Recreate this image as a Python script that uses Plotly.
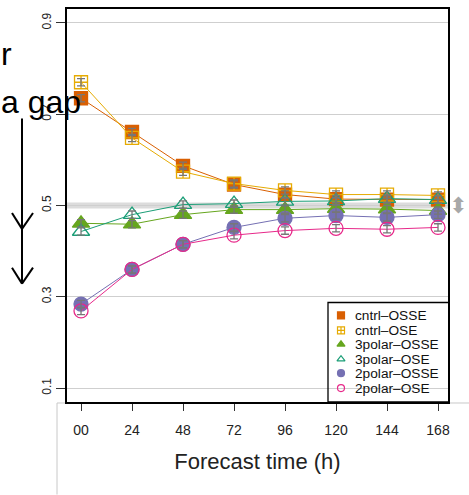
import plotly.graph_objects as go

# ---------------- data ----------------
hours = [0, 24, 48, 72, 96, 120, 144, 168]
tick_labels = ["00", "24", "48", "72", "96", "120", "144", "168"]

cntrl_osse = [0.735, 0.661, 0.587, 0.546, 0.524, 0.514, 0.513, 0.513]
cntrl_ose = [0.770, 0.648, 0.574, 0.548, 0.533, 0.524, 0.524, 0.522]
polar3_osse = [0.461, 0.459, 0.480, 0.491, 0.491, 0.493, 0.492, 0.489]
polar3_ose = [0.443, 0.480, 0.502, 0.504, 0.509, 0.510, 0.515, 0.513]
polar2_osse = [0.284, 0.360, 0.415, 0.452, 0.472, 0.478, 0.474, 0.480]
polar2_ose = [0.269, 0.360, 0.415, 0.435, 0.445, 0.450, 0.448, 0.452]
err = [0.008, 0.008, 0.008, 0.008, 0.008, 0.008, 0.008, 0.008]

series_names = ["cntrl\u2013OSSE", "cntrl\u2013OSE", "3polar\u2013OSSE",
                "3polar\u2013OSE", "2polar\u2013OSSE", "2polar\u2013OSE"]
series_vals = [cntrl_osse, cntrl_ose, polar3_osse, polar3_ose, polar2_osse, polar2_ose]
series_colors = ["#D95F02", "#E6AB02", "#66A61E", "#1B9E77", "#7570B3", "#E7298A"]
series_symbols = ["square", "square-cross-open", "triangle-up", "triangle-up-open",
                  "circle", "circle-open"]
series_sizes = [13, 13, 15, 15, 14, 14]

y_ticks = [0.1, 0.3, 0.5, 0.7, 0.9]
ref_level = 0.5
ref_band = 0.0065

# ---------------- layout geometry ----------------
W, H = 469, 495
L, R, T, B = 67, 21, 7, 93
PW, PH = W - L - R, H - T - B


def px(x):
    return (x - L) / PW


def py(y):
    return (H - B - y) / PH


fig = go.Figure()

# reference band + dotted line
fig.add_shape(type="rect", xref="paper", yref="y", x0=0, x1=1,
              y0=ref_level - ref_band, y1=ref_level + ref_band,
              fillcolor="#DCDCDC", line_width=0, layer="below")
fig.add_shape(type="line", xref="paper", yref="y", x0=0, x1=1,
              y0=ref_level, y1=ref_level,
              line=dict(color="#555555", width=1.2, dash="dot"), layer="below")

# main traces
for name, vals, col, sym, sz in zip(series_names, series_vals, series_colors,
                                    series_symbols, series_sizes):
    fig.add_trace(go.Scatter(
        x=hours, y=vals, mode="lines+markers", name=name, showlegend=False,
        line=dict(color=col, width=1),
        marker=dict(symbol=sym, size=sz, color=col,
                    line=dict(color=col, width=1.3)),
    ))

# error bars on top
for vals in series_vals:
    fig.add_trace(go.Scatter(
        x=hours, y=vals, mode="markers", showlegend=False, hoverinfo="skip",
        marker=dict(size=1, opacity=0),
        error_y=dict(type="data", array=err, color="#777777", thickness=1.3, width=4),
    ))

font_axis = "Liberation Sans, Arial, sans-serif"

# ---------------- manual legend on a pixel overlay axis ----------------
leg_box = (328, 302, 449, 402)       # left, top, right, bottom (px)
leg_sym_x = 341
leg_text_x = 353
leg_rows = [315, 330, 344, 359, 373, 388]

fig.add_trace(go.Scatter(
    x=[leg_sym_x] * len(series_names), y=leg_rows, xaxis="x2", yaxis="y2",
    mode="markers", showlegend=False, hoverinfo="skip", cliponaxis=False,
    marker=dict(symbol=series_symbols, size=7, color=series_colors,
                line=dict(color=series_colors, width=1.2)),
))
for name, yy in zip(series_names, leg_rows):
    fig.add_annotation(text=name, xref="x2", yref="y2", x=leg_text_x, y=yy,
                       xanchor="left", yanchor="middle", showarrow=False,
                       font=dict(family=font_axis, size=13.7, color="#111111"))
fig.add_shape(type="rect", xref="x2", yref="y2",
              x0=leg_box[0], x1=leg_box[2], y0=leg_box[1], y1=leg_box[3],
              line=dict(color="black", width=1.3), fillcolor="rgba(0,0,0,0)")

fig.update_layout(
    xaxis2=dict(overlaying="x", range=[L, W - R], visible=False, fixedrange=True),
    yaxis2=dict(overlaying="y", range=[H - B, T], visible=False, fixedrange=True),
)

fig.layout.xaxis.update(
    range=[-6.6, 172.7], tickvals=hours, ticktext=tick_labels,
    showgrid=False, zeroline=False,
    showline=True, linecolor="black", linewidth=1.5, mirror=True,
    ticks="outside", ticklen=7, tickcolor="#333333", tickwidth=1.3,
    ticklabelstandoff=7,
    tickfont=dict(family=font_axis, size=14, color="#222222"),
    title=dict(text="Forecast time (h)", standoff=17,
               font=dict(family=font_axis, size=22, color="#222222")),
)
fig.layout.yaxis.update(
    range=[0.0695, 0.9305], tickvals=y_ticks, ticktext=[str(v) for v in y_ticks],
    showgrid=True, gridcolor="#CFCFCF", gridwidth=1, zeroline=False,
    showline=True, linecolor="black", linewidth=1.5, mirror=True,
    ticks="outside", ticklen=9, tickcolor="#333333", tickwidth=1.3,
    tickangle=-90,
    tickfont=dict(family=font_axis, size=12, color="#222222"),
)

fig.update_layout(
    width=W, height=H,
    margin=dict(l=L, r=R, t=T, b=B, pad=0),
    paper_bgcolor="white", plot_bgcolor="white",
    showlegend=False,
)

# gray slide frame lines at the bottom
fig.add_shape(type="line", xref="paper", yref="paper",
              x0=px(57), x1=px(57), y0=py(403), y1=py(495),
              line=dict(color="#C8C8C8", width=1))
fig.add_shape(type="line", xref="paper", yref="paper",
              x0=px(57), x1=px(469), y0=py(403), y1=py(403),
              line=dict(color="#C8C8C8", width=1), layer="below")

# left-side slide text and arrows
fig.add_annotation(text="r", xref="paper", yref="paper", x=px(-1), y=py(52),
                   xanchor="left", yanchor="middle", showarrow=False,
                   font=dict(family="Liberation Sans, Arial", size=32, color="black"))
fig.add_annotation(text="a gap", xref="paper", yref="paper", x=px(-1), y=py(100),
                   xanchor="left", yanchor="middle", showarrow=False,
                   font=dict(family="Liberation Sans, Arial", size=32, color="black"))
arrow_line = dict(color="black", width=2)
fig.add_shape(type="line", xref="paper", yref="paper",
              x0=px(22), x1=px(22), y0=py(117), y1=py(283), line=arrow_line)
for tip in (228, 283):
    fig.add_shape(type="line", xref="paper", yref="paper",
                  x0=px(12), x1=px(22), y0=py(tip - 16), y1=py(tip), line=arrow_line)
    fig.add_shape(type="line", xref="paper", yref="paper",
                  x0=px(33), x1=px(22), y0=py(tip - 16), y1=py(tip), line=arrow_line)

# gray up-down handle at right
fig.add_annotation(text="\u2B0D", xref="paper", yref="y", x=px(458), y=ref_level,
                   xanchor="center", yanchor="middle", showarrow=False,
                   font=dict(family="DejaVu Sans", size=22, color="#A8A8A8"))

fig.write_html("out.html")
